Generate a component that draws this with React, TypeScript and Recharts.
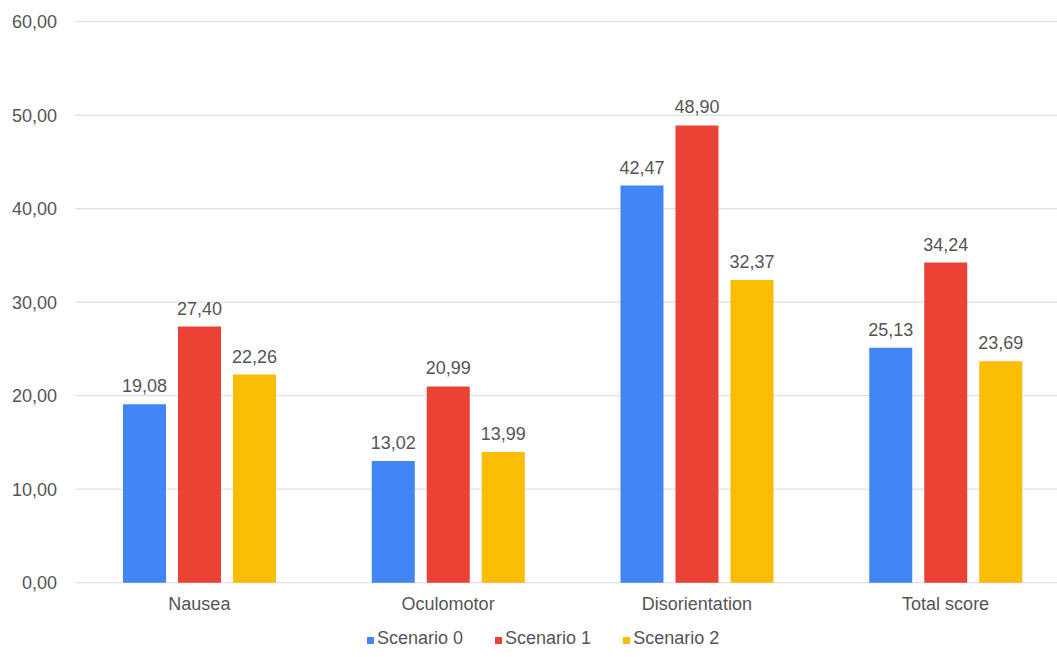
import { BarChart, Bar, XAxis, YAxis, CartesianGrid, Legend, LabelList } from 'recharts'

const categories = ['Nausea', 'Oculomotor', 'Disorientation', 'Total score']
const scenario0 = [19.08, 13.02, 42.47, 25.13]
const scenario1 = [27.4, 20.99, 48.9, 34.24]
const scenario2 = [22.26, 13.99, 32.37, 23.69]
const yTicks = [0, 10, 20, 30, 40, 50, 60]

const seriesNames = ['Scenario 0', 'Scenario 1', 'Scenario 2']
const colors = ['#4285f4', '#ea4335', '#fbbc04']

const FONT = "Arial, 'Liberation Sans', sans-serif"
const TEXT = '#555555'
const SIZE = 18

const data = categories.map((name, i) => ({
  name,
  s0: scenario0[i],
  s1: scenario1[i],
  s2: scenario2[i],
}))

const fmt = (v: number) => v.toFixed(2).replace('.', ',')

function LegendRow() {
  return (
    <div style={{ display: 'flex', fontFamily: FONT, fontSize: SIZE, color: TEXT, lineHeight: '20px' }}>
      {seriesNames.map((n, i) => (
        <div key={n} style={{ display: 'flex', alignItems: 'center', marginRight: i < 2 ? 32 : 0 }}>
          <span
            style={{
              width: 7,
              height: 7,
              background: colors[i],
              marginRight: 3,
              marginTop: 4,
            }}
          />
          <span>{n}</span>
        </div>
      ))}
    </div>
  )
}

export default function App() {
  return (
    <div
      style={{
        position: 'absolute',
        left: 0,
        top: 0,
        width: 1057,
        height: 657,
        overflow: 'hidden',
        background: '#fff',
      }}
    >
      <BarChart
        width={1085}
        height={657}
        data={data}
        margin={{ top: 21.7, right: 15, left: 0, bottom: 24.3 }}
        barSize={43}
        barGap={12}
      >
        <CartesianGrid vertical={false} stroke="#d9d9d9" />
        <XAxis
          dataKey="name"
          axisLine={false}
          tickLine={false}
          tickMargin={9}
          height={30}
          tick={{ fill: TEXT, fontSize: SIZE, fontFamily: FONT }}
        />
        <YAxis
          width={75}
          domain={[0, 60]}
          ticks={yTicks}
          axisLine={false}
          tickLine={false}
          tickMargin={12}
          tickFormatter={fmt}
          tick={{ fill: TEXT, fontSize: SIZE, fontFamily: FONT }}
        />
        <Legend
          verticalAlign="bottom"
          content={() => <LegendRow />}
          wrapperStyle={{ height: 20, width: 420, left: 367, top: 628 }}
        />
        {['s0', 's1', 's2'].map((key, i) => (
          <Bar key={key} dataKey={key} name={seriesNames[i]} fill={colors[i]} isAnimationActive={false}>
            <LabelList
              dataKey={key}
              position="top"
              offset={12}
              formatter={(v: any) => fmt(Number(v))}
              style={{ fill: TEXT, fontSize: SIZE, fontFamily: FONT }}
            />
          </Bar>
        ))}
      </BarChart>
    </div>
  )
}
